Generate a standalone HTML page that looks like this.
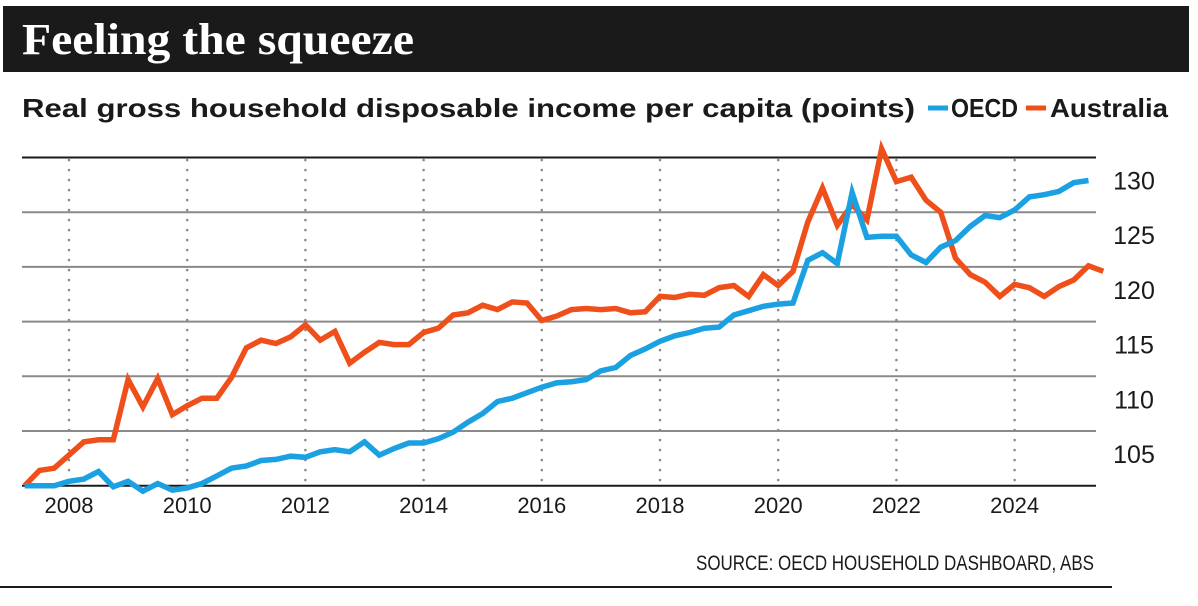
<!DOCTYPE html>
<html><head><meta charset="utf-8"><style>
body{margin:0;background:#fff;}
svg{display:block;}
</style></head><body>
<svg width="1198" height="606" viewBox="0 0 1198 606" xmlns="http://www.w3.org/2000/svg">
<rect x="3" y="6" width="1186" height="66" fill="#1a1a1a"/>
<text x="22" y="54" font-family="Liberation Serif, serif" font-weight="bold" font-size="44" fill="#fff" textLength="392" lengthAdjust="spacingAndGlyphs">Feeling the squeeze</text>
<text x="22" y="117" font-family="Liberation Sans, sans-serif" font-weight="bold" font-size="26" fill="#1a1a1a" textLength="893" lengthAdjust="spacingAndGlyphs">Real gross household disposable income per capita (points)</text>
<line x1="928" y1="108" x2="948" y2="108" stroke="#1ba1e2" stroke-width="5"/>
<text x="951" y="117" font-family="Liberation Sans, sans-serif" font-weight="bold" font-size="26" fill="#1a1a1a" textLength="67" lengthAdjust="spacingAndGlyphs">OECD</text>
<line x1="1026" y1="108" x2="1046" y2="108" stroke="#ef4f1b" stroke-width="5"/>
<text x="1050" y="117" font-family="Liberation Sans, sans-serif" font-weight="bold" font-size="26" fill="#1a1a1a" textLength="118" lengthAdjust="spacingAndGlyphs">Australia</text>
<g id="plot"></g>
<text x="1094" y="570" text-anchor="end" font-family="Liberation Sans, sans-serif" font-size="21" fill="#1a1a1a" textLength="398" lengthAdjust="spacingAndGlyphs">SOURCE: OECD HOUSEHOLD DASHBOARD, ABS</text>
<line x1="0" y1="587" x2="1112" y2="587" stroke="#1a1a1a" stroke-width="2"/>
</svg>
<script>
const yTicks=[105,110,115,120,125,130];
const xTicks=[2008,2010,2012,2014,2016,2018,2020,2022,2024];
const startYear=2007.25;
const australia=[100.0,101.4,101.6,102.8,104.0,104.2,104.2,109.7,107.2,109.8,106.5,107.3,108.0,108.0,109.9,112.6,113.3,113.0,113.6,114.7,113.3,114.1,111.2,112.2,113.1,112.9,112.9,114.0,114.4,115.6,115.8,116.5,116.1,116.8,116.7,115.1,115.5,116.1,116.2,116.1,116.2,115.8,115.9,117.3,117.2,117.5,117.4,118.1,118.3,117.3,119.3,118.3,119.6,124.1,127.2,123.8,125.7,124.3,130.8,127.8,128.2,126.1,125.0,120.8,119.3,118.6,117.3,118.4,118.1,117.3,118.2,118.8,120.1,119.6];
const oecd=[100.0,100.0,100.0,100.4,100.6,101.3,99.9,100.4,99.5,100.2,99.6,99.8,100.2,100.9,101.6,101.8,102.3,102.4,102.7,102.6,103.1,103.3,103.1,104.0,102.8,103.4,103.9,103.9,104.3,104.9,105.8,106.6,107.7,108.0,108.5,109.0,109.4,109.5,109.7,110.5,110.8,111.9,112.5,113.2,113.7,114.0,114.4,114.5,115.6,116.0,116.4,116.6,116.7,120.6,121.3,120.3,126.8,122.7,122.8,122.8,121.1,120.4,121.8,122.4,123.7,124.7,124.5,125.2,126.4,126.6,126.9,127.7,127.9];
const NS='http://www.w3.org/2000/svg';
const g=document.getElementById('plot');
const X0=22,X1=1096;
function xs(t){return 69+(t-2008)*59.1;}
function ys(v){return 485.7-(v-100)*10.94;}
function mk(tag,attrs){const e=document.createElementNS(NS,tag);for(const k in attrs)e.setAttribute(k,attrs[k]);g.appendChild(e);return e;}
yTicks.forEach(v=>{
  const l=mk('line',{x1:X0,x2:X1,y1:ys(v),y2:ys(v),stroke:v===130?'#1a1a1a':'#8a8a8a','stroke-width':2});
  
  
  const t=mk('text',{x:1134,y:ys(v)+32,'text-anchor':'middle','font-family':'Liberation Sans, sans-serif','font-size':25,fill:'#1a1a1a'});
  t.textContent=v;
  
  
});
xTicks.forEach(y=>{
  const l=mk('line',{x1:xs(y),x2:xs(y),y1:160,y2:484,stroke:'#888','stroke-width':2.5,'stroke-dasharray':'0.1 9.9','stroke-linecap':'round'});
  
  
  const t=mk('text',{x:xs(y),y:513,'text-anchor':'middle','font-family':'Liberation Sans, sans-serif','font-size':22,fill:'#1a1a1a'});
  t.textContent=y;
  
  
});
const ax=mk('line',{x1:X0,x2:X1,y1:485.7,y2:485.7,stroke:'#1a1a1a','stroke-width':2});


function path(arr){return arr.map((v,i)=>(i?'L':'M')+xs(startYear+i*0.25).toFixed(1)+','+ys(v).toFixed(1)).join(' ');}
const pa=mk('path',{d:path(australia),fill:'none',stroke:'#ef4f1b','stroke-width':5.5,'stroke-linejoin':'miter'});


const po=mk('path',{d:path(oecd),fill:'none',stroke:'#1ba1e2','stroke-width':5.5,'stroke-linejoin':'miter'});


</script>
</body></html>
